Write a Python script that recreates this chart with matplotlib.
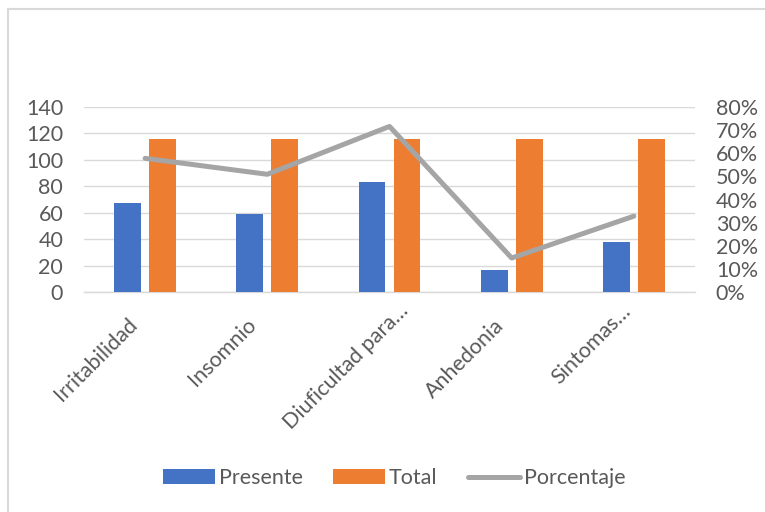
import matplotlib
matplotlib.use("Agg")
import matplotlib.pyplot as plt
from matplotlib.lines import Line2D
from matplotlib.patches import Patch
from matplotlib.ticker import FuncFormatter, MultipleLocator
from matplotlib.transforms import ScaledTranslation
import numpy as np

plt.rcParams['font.family'] = ['Lato', 'DejaVu Sans']

categorias = ["Irritabilidad", "Insomnio", "Diuficultad para…", "Anhedonia", "Sintomas…"]
presente = [67, 59, 83, 17, 38]
total = [116, 116, 116, 116, 116]
porcentaje = [0.578, 0.509, 0.716, 0.147, 0.328]

AZUL = "#4472C4"
NARANJA = "#ED7D31"
GRIS = "#A5A5A5"
TEXTO = "#595959"
REJILLA = "#D9D9D9"
FS = 15.5

W, H = 765, 512
fig = plt.figure(figsize=(W / 100, H / 100), dpi=100)

# chart frame (top and left edges visible)
fig.add_artist(Line2D([7.5 / W, 7.5 / W], [0, 1 - 8.5 / H], transform=fig.transFigure,
                      color=REJILLA, lw=1.5))
fig.add_artist(Line2D([7.5 / W, 1], [1 - 8.5 / H, 1 - 8.5 / H], transform=fig.transFigure,
                      color=REJILLA, lw=1.5))

left, right, top, bottom = 84, 695, 107, 292
ax = fig.add_axes([left / W, 1 - bottom / H, (right - left) / W, (bottom - top) / H])
ax2 = ax.twinx()

x = np.arange(len(categorias))
bw = 0.22
off = 0.143
ax.bar(x - off, presente, width=bw, color=AZUL, zorder=3)
ax.bar(x + off, total, width=bw, color=NARANJA, zorder=3)
ax2.plot(x, porcentaje, color=GRIS, lw=3.6, solid_capstyle='round',
         solid_joinstyle='round', zorder=4)

ax.set_xlim(-0.5, len(categorias) - 0.5)
ax.set_ylim(0, 140)
ax.yaxis.set_major_locator(MultipleLocator(20))
ax2.set_ylim(0, 0.8)
ax2.yaxis.set_major_locator(MultipleLocator(0.1))
ax2.yaxis.set_major_formatter(FuncFormatter(lambda v, p: f"{v * 100:.0f}%"))

ax.grid(axis='y', color=REJILLA, lw=1.0, zorder=0)
ax.set_axisbelow(True)
for a in (ax, ax2):
    for s in a.spines.values():
        s.set_visible(False)
ax.spines['bottom'].set_visible(True)
ax.spines['bottom'].set_color(REJILLA)
ax.spines['bottom'].set_linewidth(1.0)

ax.tick_params(axis='y', length=0, pad=15, labelsize=FS, labelcolor=TEXTO)
ax2.tick_params(axis='y', length=0, pad=15, labelsize=FS, labelcolor=TEXTO)
ax.set_xticks(x)
ax.set_xticklabels([])
ax.tick_params(axis='x', length=0)

# rotated category labels, anchored at the baseline end (pixel offsets from tick)
desplaz = [(-7, 34), (-10, 34), (20, 20), (-7, 35), (-2, 20)]
for xi, txt, (dx, dy) in zip(x, categorias, desplaz):
    tr = ax.get_xaxis_transform() + ScaledTranslation(dx / 100, -dy / 100, fig.dpi_scale_trans)
    ax.text(xi, 0, txt, transform=tr, rotation=45, rotation_mode='anchor',
            ha='right', va='baseline', fontsize=FS, color=TEXTO, clip_on=False)

handles = [Patch(facecolor=AZUL, label="Presente"),
           Patch(facecolor=NARANJA, label="Total"),
           Line2D([0], [0], color=GRIS, lw=3.6, solid_capstyle='round', label="Porcentaje")]
fig.legend(handles=handles, loc='center', bbox_to_anchor=(394 / W, 1 - 478 / H),
           ncol=3, frameon=False, fontsize=FS, labelcolor=TEXTO,
           handlelength=2.42, handleheight=0.65, handletextpad=0.19, columnspacing=1.4)

fig.savefig("out.png", dpi=100)
